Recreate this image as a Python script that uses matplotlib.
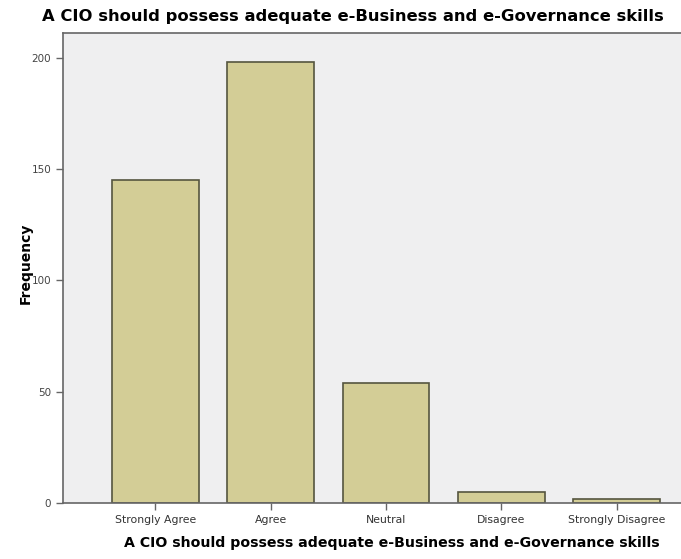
import matplotlib.pyplot as plt

# Данни
categories = ['Strongly Agree', 'Agree', 'Neutral', 'Disagree', 'Strongly Disagree']
frequency = [145, 198, 54, 5, 2]
yticks = [0, 50, 100, 150, 200]
title = 'A CIO should possess adequate e-Business and e-Governance skills'

plt.rcParams['font.family'] = ['DejaVu Sans']

fig = plt.figure(figsize=(6.81, 5.59), dpi=100)
W, H = 681, 559
# оста излиза малко вдясно от картинката, както в оригинала
ax = fig.add_axes([63 / W, (H - 503) / H, (709 - 63) / W, (503 - 33) / H])
ax.set_facecolor('#efeff0')

x = range(len(categories))
ax.bar(x, frequency, width=0.75, color='#d3cd96', edgecolor='#55553f', linewidth=1.2, zorder=2)

ax.set_xlim(-0.8, 4.8)
ax.set_ylim(0, 211)
ax.set_xticks(list(x))
ax.set_xticklabels(categories, fontsize=7.8, color='#333333')
ax.set_yticks(yticks)
ax.set_yticklabels([str(t) for t in yticks], fontsize=7.5, color='#444444')
ax.tick_params(axis='both', length=5, width=1, color='#666666')

ax.spines['right'].set_visible(False)
for side in ['left', 'bottom', 'top']:
    ax.spines[side].set_color('#666666')
    ax.spines[side].set_linewidth(1.2)

ax.set_ylabel('Frequency', fontsize=10, fontweight='bold', labelpad=10)
ax.yaxis.set_label_coords(-0.047, 0.51)
ax.set_xlabel(title, fontsize=10.2, fontweight='bold')
ax.xaxis.set_label_coords((392 - 63) / (709 - 63), -0.07)
fig.text(353 / W, 1 - 17 / H, title, fontsize=11.8, fontweight='bold', ha='center', va='center')

fig.savefig('out.png', dpi=100, facecolor='white')
